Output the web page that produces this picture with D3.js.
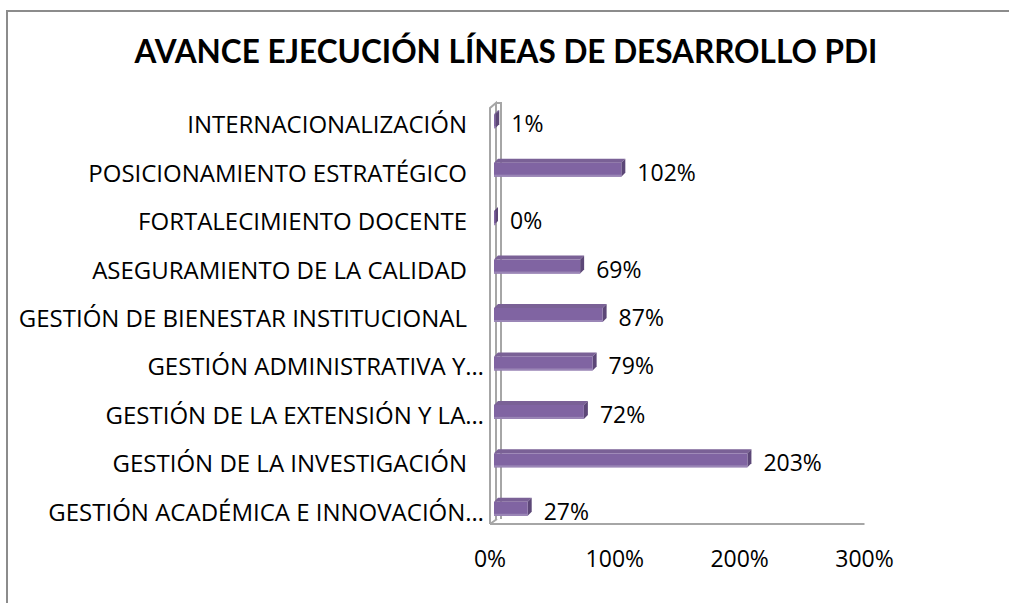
<!DOCTYPE html>
<meta charset="utf-8">
<title>Avance ejecucion lineas de desarrollo PDI</title>
<style>
body { margin: 0; background: #fff; }
text { font-family: "Open Sans", Lato, sans-serif; fill: #000; }
.title { font-family: Lato, "Open Sans", sans-serif; font-weight: bold; font-size: 31.5px; }
.cat { font-size: 24px; }
.val { font-size: 23px; }
.tick { font-size: 23px; }
.frame { fill: none; stroke: #8c8c8c; stroke-width: 2px; }
.wall { fill: none; stroke: #a6a6a6; stroke-width: 2px; }
</style>
<body>
<script src="https://d3js.org/d3.v7.min.js"></script>
<script>

// categories, top to bottom as shown
var categories = [
  "INTERNACIONALIZACIÓN",
  "POSICIONAMIENTO ESTRATÉGICO",
  "FORTALECIMIENTO DOCENTE",
  "ASEGURAMIENTO DE LA CALIDAD",
  "GESTIÓN DE BIENESTAR INSTITUCIONAL",
  "GESTIÓN ADMINISTRATIVA Y…",
  "GESTIÓN DE LA EXTENSIÓN Y LA…",
  "GESTIÓN DE LA INVESTIGACIÓN",
  "GESTIÓN ACADÉMICA E INNOVACIÓN…"
];
var values = [0.01, 1.02, 0.00, 0.69, 0.87, 0.79, 0.72, 2.03, 0.27];
var ticks = [0, 1, 2, 3];

var width = 1009, height = 603;
var svg = d3.select("body").append("svg")
    .attr("width", width)
    .attr("height", height);

// chart frame (only top and left edges visible)
svg.append("path").attr("class", "frame")
    .attr("d", "M7," + height + "V11H" + width);

svg.append("text").attr("class", "title")
    .attr("x", 506).attr("y", 63)
    .attr("text-anchor", "middle")
    .text("AVANCE EJECUCIÓN LÍNEAS DE DESARROLLO PDI");

var x = d3.scaleLinear().domain([0, 3]).range([490, 864.5]);
var y = d3.scaleBand().domain(categories).range([97, 533]);

var depth = 4, barH = 14;
var floorY = 524;

// back wall + floor (3d look)
var wall = svg.append("g").attr("class", "wall");
wall.append("path")
    .attr("d", "M" + x(0) + "," + floorY + "V108L" + (x(0) + 6) + ",103V" + (floorY - 4));
wall.append("path")
    .attr("d", "M" + (x(0) + 6) + ",103H" + (x(0) + 11) + "V" + (floorY - 5));
wall.append("path")
    .attr("d", "M" + x(0) + "," + floorY + "H" + x(3) +
      "M" + x(0) + "," + floorY + "L" + (x(0) + 7) + "," + (floorY - 5));

// bars
var bars = svg.selectAll(".bar").data(values).enter().append("g").attr("class", "bar");

bars.each(function(v, i) {
  var g = d3.select(this);
  var x0 = x(0) + 4, x1 = x(v) + 4;
  var yc = y(categories[i]) + y.bandwidth() / 2;
  var top = yc - barH / 2, bot = yc + barH / 2;
  // top face
  g.append("path")
      .attr("d", "M" + x0 + "," + top + "L" + (x0 + depth) + "," + (top - depth) +
        "H" + (x1 + depth) + "L" + x1 + "," + top + "Z")
      .attr("fill", "#7a6196");
  // right side face
  g.append("path")
      .attr("d", "M" + x1 + "," + top + "L" + (x1 + depth) + "," + (top - depth) +
        "V" + (bot - depth) + "L" + x1 + "," + bot + "Z")
      .attr("fill", "#5c4777");
  // front face
  g.append("rect")
      .attr("x", x0).attr("y", top)
      .attr("width", Math.max(x1 - x0, 1.5)).attr("height", barH)
      .attr("fill", "#8064a2");
  // lighter lower edge
  g.append("rect")
      .attr("x", x0).attr("y", bot - 2)
      .attr("width", Math.max(x1 - x0, 1.5)).attr("height", 2)
      .attr("fill", "#9a86b6");

  g.append("text").attr("class", "val")
      .attr("x", x1 + depth + 12).attr("y", yc + 11)
      .text(d3.format(".0%")(v));
});

// category labels
svg.selectAll(".cat").data(categories).enter().append("text")
    .attr("class", "cat")
    .attr("text-anchor", "end")
    .attr("x", function(d) { return d.slice(-1) === "…" ? 484 : 467; })
    .attr("y", function(d) { return y(d) + y.bandwidth() / 2 + 12; })
    .text(function(d) { return d; });

// x tick labels
svg.selectAll(".tick").data(ticks).enter().append("text")
    .attr("class", "tick")
    .attr("text-anchor", "middle")
    .attr("x", function(d) { return x(d); })
    .attr("y", 567)
    .text(function(d) { return d3.format(".0%")(d); });

</script>
</body>
</html>
